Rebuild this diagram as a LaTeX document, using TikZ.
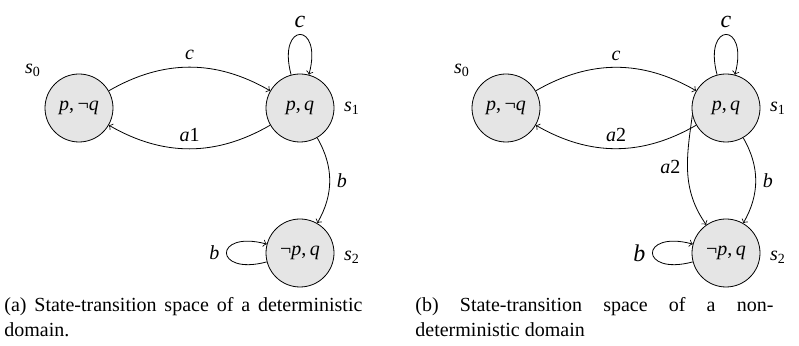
\documentclass[tikz,border=0pt]{standalone}
\usepackage{fontspec}
\setmainfont{Liberation Serif}
\usetikzlibrary{calc}
\newcommand{\ital}[1]{\textit{#1}}
\newcommand{\stname}[1]{\textit{s}\textsubscript{#1}}

\begin{document}
\begin{tikzpicture}[x=0.5pt, y=-0.5pt, font=\fontsize{10}{12.4}\selectfont,
    state/.style={circle, draw, fill=gray!20, minimum size=34pt, inner sep=0pt},
    trans/.style={->, thin},
    selfloop/.style={->, thin, looseness=8, min distance=0.95cm},
    caption/.style={anchor=north west, text width=179pt, align=justify, inner sep=0pt}]

    \useasboundingbox (0,0) rectangle (799,346);

    % 1. Left panel: deterministic domain
    \node[state] (L0) at (79,108)  {\ital{p},\,¬\ital{q}};
    \node[state] (L1) at (300,108) {\ital{p},\,\ital{q}};
    \node[state] (L2) at (300,253) {¬\ital{p},\,\ital{q}};

    \draw[trans] (L0) to[bend left=30] node[above] {\ital{c}} (L1);
    \draw[trans] (L1) to[bend left=30] node[above] {\ital{a}1} (L0);
    \draw[trans] (L1) to[bend left=30] node[right] {\ital{b}} (L2);
    \draw[selfloop] (L1) to[out=105, in=75] node[above] {\large\ital{c}} (L1);
    \draw[selfloop] (L2) to[out=195, in=165] node[left] {\ital{b}} (L2);

    % 2. Right panel: non-deterministic domain
    \node[state] (R0) at (506,108) {\ital{p},\,¬\ital{q}};
    \node[state] (R1) at (726,108) {\ital{p},\,\ital{q}};
    \node[state] (R2) at (726,253) {¬\ital{p},\,\ital{q}};

    \draw[trans] (R0) to[bend left=30] node[above] {\ital{c}} (R1);
    \draw[trans] (R1) to[bend left=30] node[above] {\ital{a}2} (R0);
    \draw[trans] (R1) to[bend left=30] node[right] {\ital{b}} (R2);
    \draw[trans] (R1.192) to[out=-98, in=125] node[left, pos=0.45] {\ital{a}2} (R2);
    \draw[selfloop] (R1) to[out=105, in=75] node[above] {\large\ital{c}} (R1);
    \draw[selfloop] (R2) to[out=195, in=165] node[left] {\large\ital{b}} (R2);

    % 3. State names
    \foreach \st/\x/\y/\i in {SL0/33/70/0, SL1/352/108/1, SL2/352/257/2,
                              SR0/462/70/0, SR1/778/108/1, SR2/778/257/2} {
        \node (\st) at (\x,\y) {\stname{\i}};
    }

    % 4. Captions
    \node[caption] (capL) at (4,297)
        {(a) State-transition space of a deterministic domain.};
    \node[caption] (capR) at (415,297)
        {(b) State-transition space of a non-deterministic domain};

\end{tikzpicture}
\end{document}
